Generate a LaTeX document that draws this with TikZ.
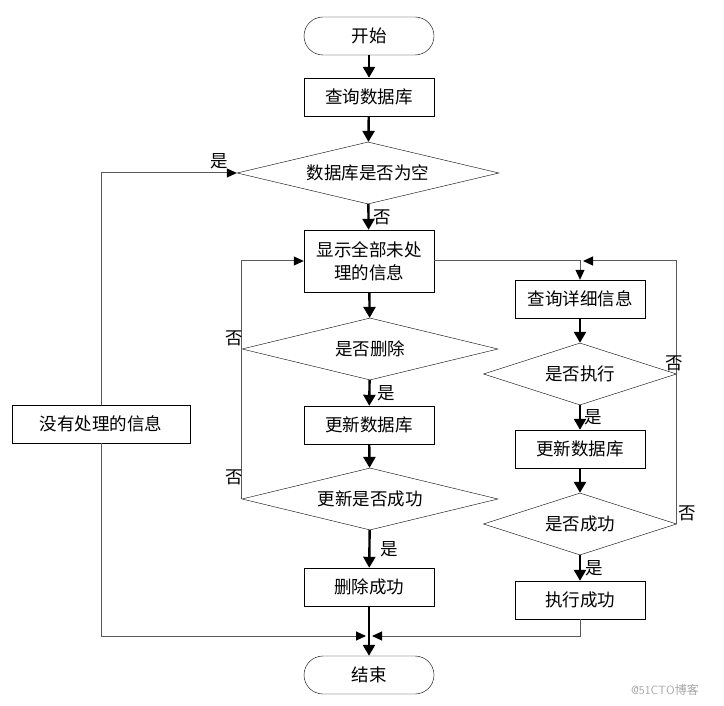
\documentclass[tikz,border=0pt]{standalone}
\usepackage{fontspec}
\newfontfamily\cjk{Noto Sans CJK SC}
\usetikzlibrary{shapes.geometric,arrows.meta}
\tikzset{
  every node/.style={font=\cjk\fontsize{17.5pt}{23pt}\selectfont},
  term/.style={draw,rounded corners=19pt,minimum width=130pt,minimum height=38pt},
  proc/.style={draw,minimum width=130pt,minimum height=38pt,align=center},
  decide/.style={draw,diamond,aspect=4,inner sep=0pt,minimum height=62pt},
  thk/.style={line width=2.4pt,-{Triangle[length=11pt,width=12pt]}},
  thn/.style={draw=black!65,line width=1pt,-{Triangle[length=10pt,width=9pt,color=black]}},
  lbl/.style={inner sep=2pt}
}
\begin{document}
\begin{tikzpicture}[x=1pt,y=-1pt]
\useasboundingbox (0,0) rectangle (724,706);
\node[term] (start) at (369,36) {开始};
\node[proc] (query) at (369,97) {查询数据库};
\node[decide,minimum width=262pt] (isempty) at (368,173) {数据库是否为空};
\node[proc,minimum height=62pt] (show) at (369,261) {显示全部未处\\理的信息};
\node[decide,minimum width=256pt] (isdel) at (370,349) {是否删除};
\node[proc] (upda) at (369,425) {更新数据库};
\node[decide,minimum width=256pt] (okdel) at (370,499) {更新是否成功};
\node[proc] (deldone) at (369,587) {删除成功};
\node[term] (stop) at (369,675) {结束};
\node[proc,minimum width=178pt] (none) at (101,424) {没有处理的信息};
\node[proc] (detail) at (580,299) {查询详细信息};
\node[decide,minimum width=193pt] (isrun) at (580,374) {是否执行};
\node[proc] (updb) at (580,449) {更新数据库};
\node[decide,minimum width=193pt] (okrun) at (580,524) {是否成功};
\node[proc] (rundone) at (580,600) {执行成功};
\coordinate (merge) at (369,636);
\coordinate (back) at (detail.north |- show.east);
\draw[thk] (start) -- (query);
\draw[thk] (query) -- (isempty);
\draw[thk] (isempty) -- node[lbl,right,xshift=2pt] {否} (show);
\draw[thk] (show) -- (isdel);
\draw[thk] (isdel) -- node[lbl,right,xshift=5pt] {是} (upda);
\draw[thk] (upda) -- (okdel);
\draw[thk] (okdel) -- node[lbl,right,xshift=8pt] {是} (deldone);
\draw[thk] (deldone) -- (stop);
\draw[thk] (detail) -- (isrun);
\draw[thk] (isrun) -- node[lbl,right,xshift=1pt] {是} (updb);
\draw[thk] (updb) -- (okrun);
\draw[thk] (okrun) -- node[lbl,right,xshift=2pt] {是} (rundone);
\draw[thn] (none.north) |- (isempty.west);
\draw[thn] (none.south) |- ([xshift=-3pt]merge);
\draw[thn] (rundone.south) |- ([xshift=3pt]merge);
\draw[thn] (okdel.west) |- (show.west);
\draw[thn] (show.east) -| (detail.north);
\draw[thn] (okrun.east) |- ([xshift=3pt]back);
\node[lbl,anchor=south east] at ([xshift=-7pt,yshift=2pt]isempty.west) {是};
\node[lbl,anchor=south east] at ([xshift=3pt,yshift=1pt]isdel.west) {否};
\node[lbl,anchor=south east] at ([xshift=3pt,yshift=12pt]okdel.west) {否};
\node[lbl,anchor=south] at ([xshift=-2pt,yshift=1pt]isrun.east) {否};
\node[lbl,anchor=south west] at ([yshift=1pt]okrun.east) {否};
\node[text=black!35,font=\fontsize{12pt}{14pt}\selectfont\sffamily] (mark) at (665,690) {@51CTO{\cjk 博客}};
\end{tikzpicture}
\end{document}
